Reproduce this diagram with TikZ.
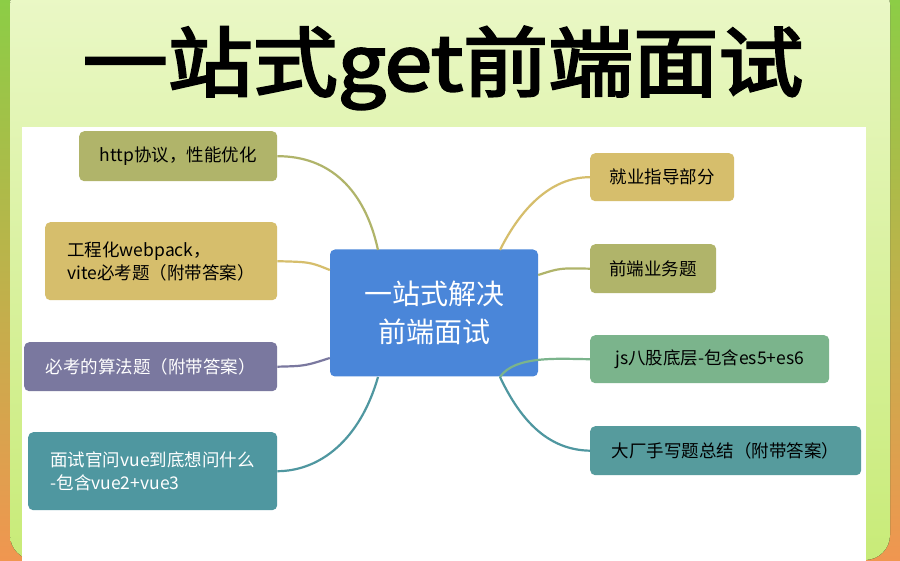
\documentclass[tikz,border=0pt]{standalone}
\usepackage{fontspec}
\newfontfamily\cjk{Noto Sans CJK SC}
\newfontfamily\cjkb{Noto Sans CJK SC}[BoldFont={* Black},AutoFakeBold=3]
\begin{document}
\begin{tikzpicture}[x=1pt,y=-1pt,
  box/.style={rounded corners=5pt,font=\cjk\fontsize{17.5}{23}\selectfont,align=left,inner sep=0pt,anchor=north west},
  link/.style={line width=2.2pt}]
\definecolor{olive}{HTML}{B0B46A}\definecolor{gold}{HTML}{D6BE6C}
\definecolor{purp}{HTML}{7A789F}\definecolor{teal}{HTML}{4F97A0}
\definecolor{mint}{HTML}{7BB48C}\definecolor{cblue}{HTML}{4A86D9}
\useasboundingbox (0,0) rectangle (900,561);
\shade[top color={rgb,255:red,140;green,205;blue,70},bottom color={rgb,255:red,240;green,150;blue,80}] (0,0) rectangle (900,561);
\fill[rounded corners=25pt,top color={rgb,255:red,235;green,248;blue,200},bottom color={rgb,255:red,200;green,235;blue,120}] (10,-20) rectangle (890,560);
\fill[white] (22,127) rectangle (866,561);
\node[font=\cjkb\bfseries\fontsize{76}{78}\selectfont,xscale=1.12] (title) at (443,68) {一站式get前端面试};
\node[box,fill=cblue,text=white,minimum width=208pt,minimum height=127pt,align=center,anchor=center,font=\cjk\fontsize{28}{38}\selectfont] (c) at (434,313) {一站式解决\\前端面试};
\node[box,fill=olive,minimum width=198pt,minimum height=50pt,inner xsep=16pt] (l1) at (79,131) {http协议，性能优化};
\node[box,fill=gold,minimum width=232pt,minimum height=78pt,inner xsep=16pt] (l2) at (45,222) {工程化webpack，\\vite必考题（附带答案）};
\node[box,fill=purp,text=white,minimum width=253pt,minimum height=49pt,inner xsep=16pt] (l3) at (24,342) {必考的算法题（附带答案）};
\node[box,fill=teal,text=white,minimum width=249pt,minimum height=78pt,inner xsep=16pt] (l4) at (28,432) {面试官问vue到底想问什么\\-包含vue2+vue3};
\node[box,fill=gold,minimum width=144pt,minimum height=48pt,inner xsep=16pt] (r1) at (590,153) {就业指导部分};
\node[box,fill=olive,minimum width=126pt,minimum height=49pt,inner xsep=16pt] (r2) at (590,244) {前端业务题};
\node[box,fill=mint,minimum width=239pt,minimum height=48pt,inner xsep=16pt] (r3) at (590,335) {js八股底层-包含es5+es6};
\node[box,fill=teal!85!mint,minimum width=271pt,minimum height=49pt,inner xsep=16pt] (r4) at (590,426) {大厂手写题总结（附带答案）};
\coordinate (ctl) at (378,250); \coordinate (cbl) at (378,377);
\coordinate (ctr) at (500,250); \coordinate (cbr) at (500,377);
\draw[link,olive] (ctl) .. controls (365,190) and (330,156) .. (l1.east);
\draw[link,gold] (c.west|-0,270) .. controls (310,262) .. (l2.east);
\draw[link,purp] (c.west|-0,358) .. controls (305,366) .. (l3.east);
\draw[link,teal] (cbl) .. controls (360,440) and (320,471) .. (l4.east);
\draw[link,gold] (ctr) .. controls (520,210) and (550,177) .. (r1.west);
\draw[link,olive] (c.east|-0,275) .. controls (560,268) .. (r2.west);
\draw[link,mint] (cbr) .. controls (515,355) and (560,359) .. (r3.west);
\draw[link,teal] (cbr) .. controls (525,430) and (555,450) .. (r4.west);
\end{tikzpicture}
\end{document}
